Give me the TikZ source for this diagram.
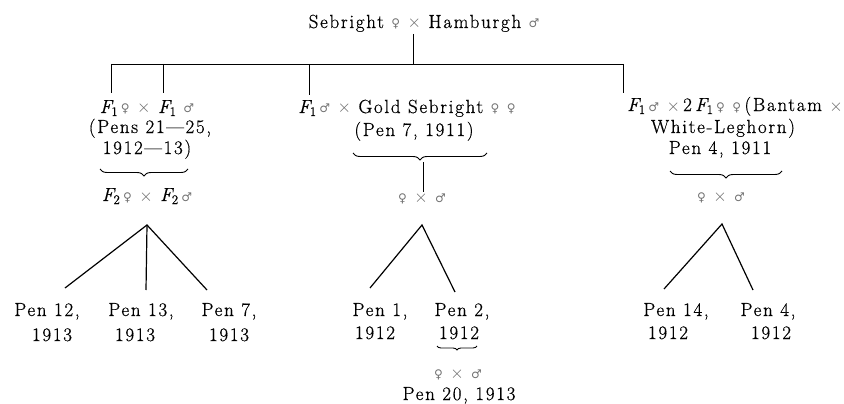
\documentclass[tikz,border=0pt]{standalone}
\usepackage{fontspec}
\setmainfont{Latin Modern Roman}[LetterSpace=9, FakeBold=0.6]
\newfontfamily\symfont{DejaVu Sans}
\usetikzlibrary{decorations.pathreplacing}
\newcommand\fem{{\symfont\fontsize{12}{12}\selectfont\textcolor{black!55}{♀}}}
\newcommand\mal{{\symfont\fontsize{12}{12}\selectfont\textcolor{black!55}{♂}}}
\newcommand\crs{\textcolor{black!60}{$\times$}}
\newcommand\Fsub[1]{{\itshape F}\kern-0.5pt\raisebox{-3pt}{\fontsize{13}{13}\selectfont #1}}
\newcommand\Fi{\Fsub{1}}
\newcommand\Fii{\Fsub{2}}
\begin{document}
\begin{tikzpicture}[x=1pt,y=-1pt,
  txt/.style={inner sep=0pt, anchor=base, font=\fontsize{19}{21}\selectfont},
  thin/.style={line width=0.8pt},
  link/.style={line width=1.2pt},
  brc/.style={decorate, decoration={brace, mirror, amplitude=#1}, line width=0.9pt}]
\useasboundingbox (0,0) rectangle (844,404);

% texts
\node[txt] (title) at (424,28) {Sebright \fem{} \crs{} Hamburgh \mal};

\node[txt] (l1) at (147,113) {\Fi\,\fem{} \crs{} \Fi{} \mal};
\node[txt] (l2) at (150,133) {(Pens 21—25,};
\node[txt] (l3) at (147,154) {1912—13)};
\node[txt] (lf2) at (147,201) {\Fii\,\fem{} \crs{} \Fii\,\mal};

\node[txt] (m1) at (407,113) {\Fi\,\mal{} \crs{} Gold Sebright \fem{} \fem};
\node[txt] (m2) at (414,136) {(Pen 7, 1911)};
\node[txt] (mx) at (422,202) {\fem{} \crs{} \mal};

\node[txt] (r1) at (735,111) {\Fi\,\mal{} \crs\,2\,\Fi\,\fem{} \fem\,(Bantam \crs};
\node[txt] (r2) at (723,133) {White-Leghorn)};
\node[txt] (r3) at (720,154) {Pen 4, 1911};
\node[txt] (rx) at (721,201) {\fem{} \crs{} \mal};

\node[txt] (p12a) at (47,316) {Pen 12,};
\node[txt] (p12b) at (52,341) {1913};
\node[txt] (p13a) at (141,316) {Pen 13,};
\node[txt] (p13b) at (135,341) {1913};
\node[txt] (p7a) at (229,316) {Pen 7,};
\node[txt] (p7b) at (229,341) {1913};

\node[txt] (p1a) at (380,316) {Pen 1,};
\node[txt] (p1b) at (375,339) {1912};
\node[txt] (p2a) at (462,316) {Pen 2,};
\node[txt] (p2b) at (459,339) {1912};
\node[txt] (p2x) at (458,378) {\fem{} \crs{} \mal};
\node[txt] (p20) at (459,400) {Pen 20, 1913};

\node[txt] (p14a) at (676,316) {Pen 14,};
\node[txt] (p14b) at (668,339) {1912};
\node[txt] (p4a) at (768,316) {Pen 4,};
\node[txt] (p4b) at (771,339) {1912};

% top connector and bar
\coordinate (t0) at (413,34);
\coordinate (bar0) at (413,64);
\coordinate (barL) at (111,64);
\coordinate (barR) at (623,64);
\coordinate (dA) at (111,93);
\coordinate (dB) at (163,93);
\coordinate (dC) at (309,95);
\coordinate (dD) at (623,93);
\draw[thin] (t0) -- (bar0);
\draw[thin] (barL) -- (barR);
\draw[thin] (barL) -- (dA);
\draw[thin] (dB |- barL) -- (dB);
\draw[thin] (dC |- barL) -- (dC);
\draw[thin] (barR) -- (dD);

% braces
\draw[brc=7pt] (100,169) -- (188,169);
\draw[brc=7pt] (353,153) -- (487,153);
\draw[brc=7pt] (670,171) -- (782,171);
\draw[brc=4pt] (437,346) -- (477,346);
\coordinate (mtip) at (423,162);
\draw[thin] (mtip) -- (mtip |- mx.north);

% trees
\coordinate (aL) at (147,225);
\coordinate (fL1) at (65,288);
\coordinate (fL2) at (146,290);
\coordinate (fL3) at (207,290);
\draw[link] (fL1) -- (aL) -- (fL3);
\draw[link] (aL) -- (fL2);

\coordinate (aM) at (422,225);
\coordinate (fM1) at (370,288);
\coordinate (fM2) at (455,292);
\draw[link] (fM1) -- (aM) -- (fM2);

\coordinate (aR) at (722,224);
\coordinate (fR1) at (664,289);
\coordinate (fR2) at (753,290);
\draw[link] (fR1) -- (aR) -- (fR2);
\end{tikzpicture}
\end{document}
